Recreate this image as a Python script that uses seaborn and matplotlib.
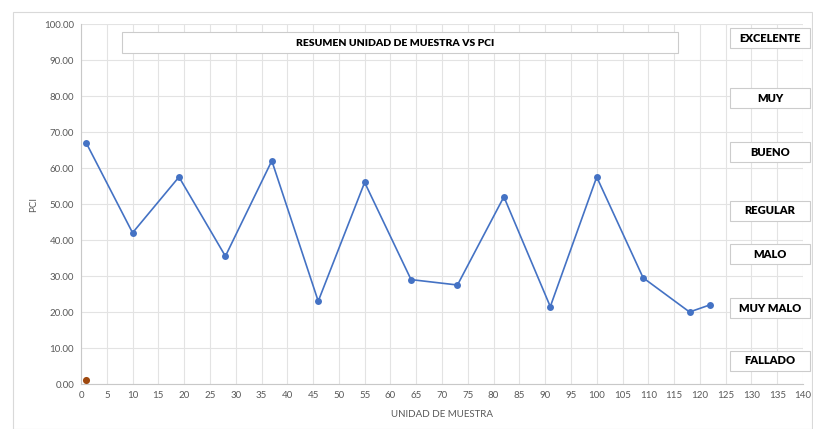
import numpy as np
import pandas as pd
import matplotlib
matplotlib.use("Agg")
import matplotlib.pyplot as plt
from matplotlib.patches import Rectangle
import seaborn as sns

# sample units vs PCI
unidad = [1, 10, 19, 28, 37, 46, 55, 64, 73, 82, 91, 100, 109, 118, 122]
pci = [67.0, 42.0, 57.5, 35.5, 62.0, 23.0, 56.0, 29.0, 27.5, 52.0, 21.5, 57.5, 29.5, 20.0, 22.0]
extra_x = [1]
extra_y = [1.0]

categorias = ["EXCELENTE", "MUY", "BUENO", "REGULAR", "MALO", "MUY MALO", "FALLADO"]
cat_y_px = [38, 98, 152, 211, 254, 308, 361]

titulo = "RESUMEN UNIDAD DE MUESTRA VS PCI"

sns.set_theme(style="whitegrid")
plt.rcParams['font.family'] = ['Lato', 'DejaVu Sans']

df = pd.DataFrame({'UNIDAD': unidad, 'PCI': pci})

fig = plt.figure(figsize=(8.13, 4.29), dpi=100)
W, H = 813, 429

# outer chart frame
fig.patches.append(Rectangle((13 / W, 0), (812 - 13) / W, (429 - 12) / H,
                             transform=fig.transFigure, fill=False,
                             edgecolor='#d9d9d9', linewidth=0.8))

ax = fig.add_axes([81 / W, (H - 384) / H, (803 - 81) / W, (384 - 24) / H])
sns.lineplot(data=df, x='UNIDAD', y='PCI', ax=ax, color='#4472C4', linewidth=1.2,
             marker='o', markersize=5, markeredgewidth=0)
sns.scatterplot(x=extra_x, y=extra_y, ax=ax, color='#9E480E', s=26, linewidth=0, zorder=5)

ax.set_xlim(0, 140)
ax.set_ylim(0, 100)
ax.set_xticks(np.arange(0, 141, 5))
ax.set_yticks(np.arange(0, 101, 10))
ax.set_yticklabels([f"{v:.2f}" for v in np.arange(0, 101, 10)])
ax.tick_params(axis='both', labelsize=7, colors='#595959', length=0, pad=5)
ax.grid(True, color='#e3e3e3', linewidth=0.8)
ax.set_facecolor('white')
for s in ['top', 'right']:
    ax.spines[s].set_visible(False)
for s in ['left', 'bottom']:
    ax.spines[s].set_color('#c8c8c8')
    ax.spines[s].set_linewidth(0.8)
ax.set_xlabel("UNIDAD DE MUESTRA", fontsize=7, color='#595959', labelpad=7)
ax.set_ylabel("PCI", fontsize=7, color='#595959', labelpad=4)

# title box
fig.patches.append(Rectangle((122 / W, (H - 53) / H), (678 - 122) / W, 21 / H,
                             transform=fig.transFigure, facecolor='white',
                             edgecolor='#cccccc', linewidth=0.8, zorder=10))
fig.text(395 / W, (H - 43) / H, titulo, ha='center', va='center', fontsize=7.5,
         fontweight='heavy', color='black', zorder=11)

# category boxes on the right
for name, yp in zip(categorias, cat_y_px):
    fig.patches.append(Rectangle((730 / W, (H - yp - 10) / H), 80 / W, 20 / H,
                                 transform=fig.transFigure, facecolor='white',
                                 edgecolor='#cccccc', linewidth=0.8, zorder=10))
    fig.text(770 / W, (H - yp) / H, name, ha='center', va='center', fontsize=8,
             fontweight='heavy', color='black', zorder=11)

plt.savefig('out.png', dpi=100)
